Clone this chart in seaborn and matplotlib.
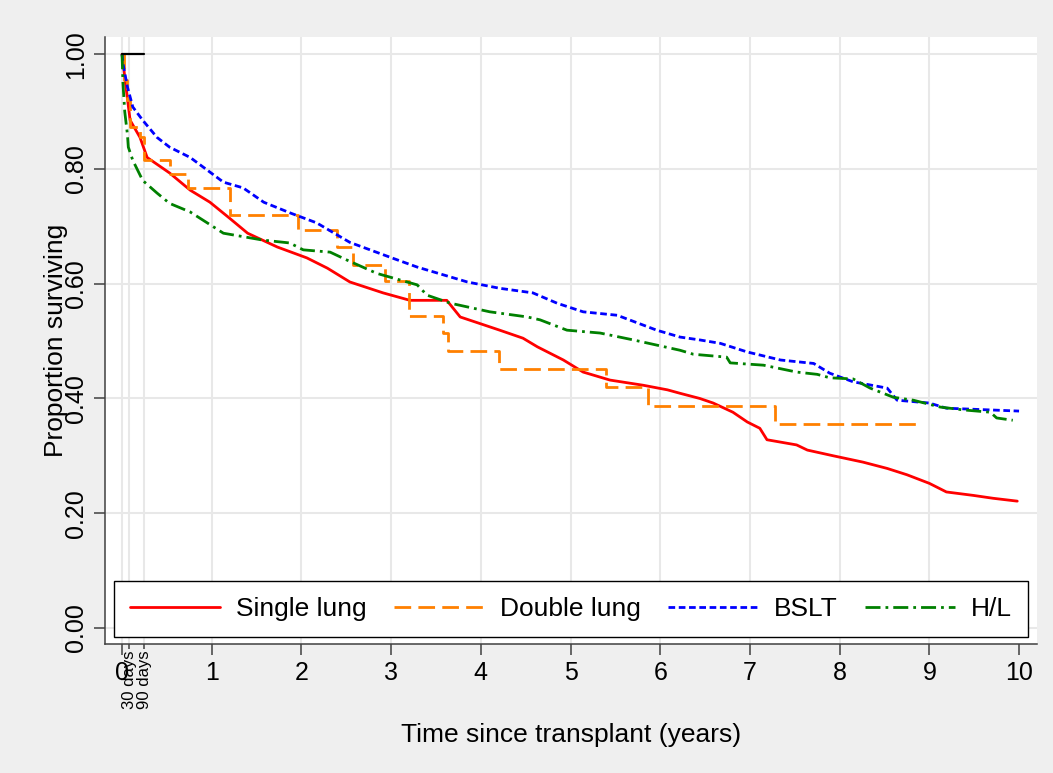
import numpy as np
import pandas as pd
import seaborn as sns
import matplotlib.pyplot as plt

# Kaplan-Meier curves (years, proportion surviving)
single_t = [0, 0.01, 0.03, 0.09, 0.2, 0.28, 0.53, 0.76, 0.98, 1.2, 1.4, 1.73, 2.06, 2.29, 2.54,
            2.91, 3.21, 3.62, 3.77, 4.0, 4.21, 4.47, 4.63, 4.92, 5.14, 5.44, 5.81, 6.08, 6.22,
            6.44, 6.59, 6.81, 6.97, 7.11, 7.19, 7.52, 7.64, 7.93, 8.26, 8.53, 8.75, 9.0, 9.19,
            9.49, 9.71, 9.98]
single_s = [1.0, 0.99, 0.96, 0.885, 0.855, 0.82, 0.793, 0.763, 0.742, 0.714, 0.688, 0.664, 0.645,
            0.627, 0.603, 0.584, 0.571, 0.571, 0.542, 0.53, 0.519, 0.505, 0.49, 0.467, 0.446,
            0.432, 0.423, 0.415, 0.409, 0.40, 0.392, 0.376, 0.359, 0.348, 0.328, 0.319, 0.31,
            0.30, 0.289, 0.278, 0.267, 0.252, 0.237, 0.231, 0.226, 0.221]

double_t = [0, 0.02, 0.06, 0.09, 0.2, 0.24, 0.54, 0.74, 1.2, 1.96, 2.4, 2.58, 2.93, 3.2, 3.58,
            3.63, 4.2, 5.4, 5.86, 7.28, 8.9]
double_s = [1.0, 0.955, 0.92, 0.873, 0.855, 0.815, 0.791, 0.767, 0.72, 0.693, 0.664, 0.632,
            0.604, 0.543, 0.514, 0.483, 0.451, 0.42, 0.387, 0.355, 0.355]

bslt_t = [0, 0.01, 0.06, 0.12, 0.23, 0.39, 0.53, 0.76, 0.95, 1.13, 1.35, 1.58, 1.88, 2.17, 2.54,
          2.99, 3.29, 3.85, 4.21, 4.58, 4.85, 5.14, 5.52, 5.96, 6.22, 6.44, 6.67, 6.97, 7.34,
          7.71, 7.89, 8.15, 8.53, 8.64, 9.0, 9.19, 10.0]
bslt_s = [1.0, 0.984, 0.943, 0.908, 0.885, 0.855, 0.838, 0.82, 0.798, 0.777, 0.767, 0.742,
          0.723, 0.706, 0.672, 0.646, 0.629, 0.603, 0.592, 0.584, 0.566, 0.551, 0.545, 0.519,
          0.507, 0.502, 0.496, 0.481, 0.467, 0.461, 0.444, 0.429, 0.418, 0.397, 0.392, 0.383,
          0.378]

hl_t = [0, 0.01, 0.03, 0.06, 0.07, 0.12, 0.23, 0.39, 0.53, 0.76, 0.95, 1.13, 1.57, 1.87, 2.02,
        2.32, 2.51, 2.84, 3.02, 3.29, 3.4, 3.66, 4.1, 4.52, 4.66, 4.96, 5.33, 5.7, 5.96, 6.22,
        6.37, 6.74, 6.78, 7.15, 7.52, 7.75, 7.89, 8.15, 8.34, 8.6, 8.82, 9.12, 9.38, 9.68,
        9.75, 9.93]
hl_s = [1.0, 0.95, 0.9, 0.86, 0.838, 0.815, 0.78, 0.758, 0.74, 0.725, 0.706, 0.688, 0.676,
        0.671, 0.659, 0.655, 0.641, 0.618, 0.61, 0.598, 0.58, 0.566, 0.551, 0.542, 0.537,
        0.519, 0.514, 0.502, 0.493, 0.484, 0.477, 0.472, 0.462, 0.458, 0.446, 0.442, 0.436,
        0.434, 0.418, 0.402, 0.397, 0.385, 0.38, 0.376, 0.366, 0.362]

ref_t = [0, 90 / 365.25]
ref_s = [1.0, 1.0]

year_ticks = list(range(0, 11))
day_ticks = [30 / 365.25, 90 / 365.25]
day_labels = ['30 days', '90 days']
y_ticks = [0.0, 0.2, 0.4, 0.6, 0.8, 1.0]

sns.set_style('white')
plt.rcParams['font.family'] = ['Liberation Sans', 'DejaVu Sans']
plt.rcParams['text.color'] = 'black'
plt.rcParams['axes.labelcolor'] = 'black'
plt.rcParams['xtick.color'] = 'black'
plt.rcParams['ytick.color'] = 'black'

fig = plt.figure(figsize=(10.53, 7.73), dpi=100, facecolor='#efefef')
ax = fig.add_axes([105 / 1053, (773 - 644) / 773, (1037 - 105) / 1053, (644 - 37) / 773])
ax.set_facecolor('white')

# light grid, no line at 10
for x in [0] + day_ticks + year_ticks[1:-1]:
    ax.axvline(x, color='#e8e8e8', lw=1.5, zorder=0)
for y in y_ticks:
    ax.axhline(y, color='#e8e8e8', lw=1.5, zorder=0)

lw = 2.0
sns.lineplot(x=single_t, y=single_s, ax=ax, color='#ff0000', lw=lw, label='Single lung',
             estimator=None, sort=False)
sns.lineplot(x=double_t, y=double_s, ax=ax, color='#ff8000', lw=lw, label='Double lung',
             estimator=None, sort=False, drawstyle='steps-post', dashes=False,
             linestyle=(0, (6.0, 2.6)))
sns.lineplot(x=bslt_t, y=bslt_s, ax=ax, color='#0000ff', lw=lw, label='BSLT',
             estimator=None, sort=False, linestyle=(0, (2.4, 1.3)))
sns.lineplot(x=hl_t, y=hl_s, ax=ax, color='#008000', lw=lw, label='H/L',
             estimator=None, sort=False, linestyle=(0, (5.4, 1.8, 1.0, 1.8)))
ax.plot(ref_t, ref_s, color='black', lw=1.6, zorder=5)

ax.set_xlim(-0.19, 10.2)
ax.set_ylim(-0.028, 1.03)

ax.set_xticks(year_ticks)
ax.set_xticklabels([str(v) for v in year_ticks], fontsize=18)
ax.set_xticks(day_ticks, minor=True)
ax.set_xticklabels(day_labels, minor=True, rotation=90, fontsize=12, va='top', ha='center')
ax.set_yticks(y_ticks)
ax.set_yticklabels([f'{v:.2f}' for v in y_ticks], fontsize=18, rotation=90, va='center')

ax.tick_params(axis='both', which='major', length=8, width=1.1, color='#404040',
               direction='out', pad=4, bottom=True, left=True)
ax.tick_params(axis='x', which='minor', length=3.5, width=1.1, color='#404040',
               direction='out', pad=1, bottom=True)

for side in ['top', 'right']:
    ax.spines[side].set_visible(False)
for side in ['left', 'bottom']:
    ax.spines[side].set_color('#404040')
    ax.spines[side].set_linewidth(1.1)

ax.set_xlabel('Time since transplant (years)', fontsize=19)
ax.set_ylabel('Proportion surviving', fontsize=19)
ax.xaxis.set_label_coords(0.5, -0.130)
ax.yaxis.set_label_coords(-0.040, 0.5)

leg = ax.legend(loc='lower center', bbox_to_anchor=(0.5, 0.012), ncol=4, fontsize=19,
                frameon=True, fancybox=False, framealpha=1, edgecolor='black',
                handlelength=3.4, handletextpad=0.6, columnspacing=1.05, borderpad=0.6,
                borderaxespad=0)
leg.get_frame().set_linewidth(1.0)

fig.savefig('out.png', dpi=100, facecolor=fig.get_facecolor())
